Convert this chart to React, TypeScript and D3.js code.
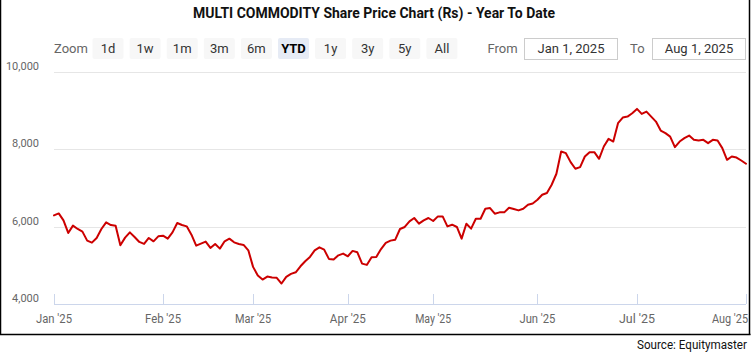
import React from "react";
import * as d3 from "d3";

const prices: number[] = [
  6292, 6343, 6163, 5837, 6026, 5940, 5871, 5639, 5587, 5708,
  5940, 6111, 6043, 6026, 5518, 5716, 5853, 5734, 5605, 5553,
  5708, 5621, 5750, 5768, 5690, 5853, 6095, 6043, 6008, 5794,
  5510, 5561, 5613, 5450, 5553, 5432, 5621, 5690, 5595, 5553,
  5527, 5389, 4960, 4735, 4632, 4710, 4684, 4676, 4529, 4702,
  4779, 4821, 4975, 5105, 5218, 5388, 5466, 5406, 5166, 5148,
  5259, 5303, 5234, 5373, 5337, 5045, 5011, 5208, 5218, 5420,
  5580, 5639, 5664, 5940, 5992, 6137, 6224, 6077, 6163, 6224,
  6146, 6266, 6266, 6008, 6051, 5992, 5690, 6077, 5948, 6206,
  6206, 6464, 6482, 6335, 6370, 6370, 6490, 6456, 6421, 6464,
  6568, 6601, 6697, 6826, 6869, 7084, 7368, 7943, 7901, 7669,
  7497, 7540, 7814, 7927, 7927, 7755, 8073, 8271, 8201, 8676,
  8821, 8847, 8934, 9045, 8916, 8975, 8847, 8718, 8485, 8418,
  8330, 8057, 8201, 8289, 8356, 8245, 8227, 8245, 8160, 8245,
  8227, 8031, 7729, 7814, 7788, 7711, 7626,
];

const monthLabels: string[] = ["Jan '25", "Feb '25", "Mar '25", "Apr '25", "May '25", "Jun '25", "Jul '25", "Aug '25"];
const monthTickIndex: number[] = [0, 23, 42, 62, 80, 102, 123, 146];
const yTicks: number[] = [4000, 6000, 8000, 10000];
const zoomButtons: string[] = ["1d", "1w", "1m", "3m", "6m", "YTD", "1y", "3y", "5y", "All"];
const selectedButton = "YTD";
const fromDate = "Jan 1, 2025";
const toDate = "Aug 1, 2025";
const title = "MULTI COMMODITY Share Price Chart (Rs) - Year To Date";
const source = "Source: Equitymaster";

const W = 751;
const H = 356;
const plotLeft = 54;
const plotRight = 746;
const plotTop = 72;
const plotBottom = 304;
const FONT = "Roboto, 'Liberation Sans', Arial, sans-serif";

export default function App() {
  const x = d3.scaleLinear().domain([0, prices.length - 1]).range([plotLeft, plotRight]);
  const y = d3.scaleLinear().domain([4000, 10000]).range([plotBottom, plotTop]);
  const line = d3
    .line<number>()
    .x((_, i) => x(i))
    .y((d) => y(d));
  const lastTick = monthTickIndex.length - 1;

  return (
    <div style={{ position: "fixed", left: 0, top: 0, width: W, height: H, background: "#fff" }}>
      <svg width={W} height={H} style={{ display: "block", fontFamily: FONT }}>
        <defs>
          <clipPath id="frame">
            <rect x={0} y={0} width={749} height={334} />
          </clipPath>
        </defs>
        <rect x={0} y={0} width={W} height={H} fill="#fff" />
        <g clipPath="url(#frame)">
          {/* title */}
          <text
            x={374}
            y={18}
            textAnchor="middle"
            fontSize={14}
            fontWeight="bold"
            fill="#111"
            textLength={362}
            lengthAdjust="spacingAndGlyphs"
          >
            {title}
          </text>

          {/* range selector */}
          <text x={54} y={53} fontSize={13} fill="#666">Zoom</text>
          {zoomButtons.map((b, i) => {
            const bx = 92.5 + i * 37.1;
            const sel = b === selectedButton;
            return (
              <g key={b}>
                <rect x={bx} y={38} width={31} height={21} rx={2} fill={sel ? "#e6ebf5" : "#f7f7f7"} />
                <text
                  x={bx + 15.5}
                  y={53}
                  textAnchor="middle"
                  fontSize={13}
                  fontWeight={sel ? "bold" : "normal"}
                  fill={sel ? "#000" : "#333"}
                >
                  {b}
                </text>
              </g>
            );
          })}
          <text x={487.5} y={53} fontSize={13} fill="#666">From</text>
          <rect x={524.5} y={38.5} width={93} height={21} fill="#fff" stroke="#cccccc" />
          <text x={571} y={53} textAnchor="middle" fontSize={13} fill="#333">{fromDate}</text>
          <text x={630} y={53} fontSize={13} fill="#666">To</text>
          <rect x={652.5} y={38.5} width={93} height={21} fill="#fff" stroke="#cccccc" />
          <text x={699} y={53} textAnchor="middle" fontSize={13} fill="#333">{toDate}</text>

          {/* grid + y labels */}
          {yTicks.map((t) => (
            <g key={t}>
              {t !== 4000 && (
                <line x1={plotLeft} x2={plotRight} y1={Math.round(y(t)) + 0.5} y2={Math.round(y(t)) + 0.5} stroke="#e6e6e6" />
              )}
              <text x={39} y={y(t) - 2} textAnchor="end" fontSize={11} fill="#666">
                {d3.format(",")(t)}
              </text>
            </g>
          ))}

          {/* x axis */}
          <line x1={plotLeft} x2={plotRight} y1={plotBottom + 0.5} y2={plotBottom + 0.5} stroke="#ccd6eb" />
          {monthTickIndex.map((ti, i) => (
            <g key={monthLabels[i]}>
              <line
                x1={Math.round(x(ti)) + 0.5}
                x2={Math.round(x(ti)) + 0.5}
                y1={plotBottom - 10}
                y2={plotBottom}
                stroke="#ccd6eb"
              />
              <text
                x={i === lastTick ? 748 : x(ti)}
                y={323}
                textAnchor={i === lastTick ? "end" : "middle"}
                fontSize={12}
                fill="#666"
                textLength={36}
                lengthAdjust="spacingAndGlyphs"
              >
                {monthLabels[i]}
              </text>
            </g>
          ))}

          {/* price line */}
          <path d={line(prices) || ""} fill="none" stroke="#cc0000" strokeWidth={2} strokeLinejoin="round" strokeLinecap="round" />
        </g>

        {/* frame */}
        <line x1={0.5} x2={0.5} y1={0} y2={335} stroke="#000" strokeWidth={1.5} />
        <line x1={749.5} x2={749.5} y1={0} y2={335} stroke="#000" strokeWidth={1.5} />
        <line x1={0} x2={750.5} y1={334.5} y2={334.5} stroke="#000" strokeWidth={1.5} />

        {/* source */}
        <text x={747} y={349} textAnchor="end" fontSize={12} fill="#111" textLength={110} lengthAdjust="spacingAndGlyphs">
          {source}
        </text>
      </svg>
    </div>
  );
}
